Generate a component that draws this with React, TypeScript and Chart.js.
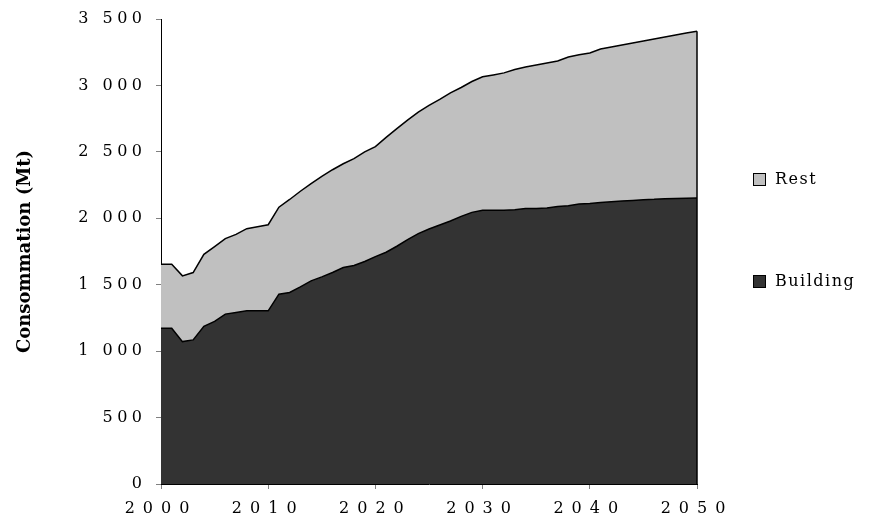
import React, { useEffect, useRef } from "react";
import { Chart, registerables } from "chart.js";

Chart.register(...registerables);

const years = [
  2000, 2001, 2002, 2003, 2004, 2005, 2006, 2007, 2008, 2009,
  2010, 2011, 2012, 2013, 2014, 2015, 2016, 2017, 2018, 2019,
  2020, 2021, 2022, 2023, 2024, 2025, 2026, 2027, 2028, 2029,
  2030, 2031, 2032, 2033, 2034, 2035, 2036, 2037, 2038, 2039,
  2040, 2041, 2042, 2043, 2044, 2045, 2046, 2047, 2048, 2049, 2050,
];

const building = [
  1172, 1172, 1072, 1085, 1187, 1224, 1279, 1292, 1304, 1304,
  1304, 1429, 1442, 1484, 1529, 1559, 1592, 1630, 1645, 1675,
  1712, 1745, 1790, 1840, 1885, 1920, 1950, 1980, 2015, 2045,
  2060, 2060, 2060, 2065, 2075, 2075, 2078, 2090, 2095, 2108,
  2112, 2120, 2125, 2130, 2135, 2140, 2143, 2148, 2150, 2152, 2154,
];

const rest = [
  482, 482, 495, 507, 542, 563, 568, 587, 618, 633,
  648, 655, 700, 720, 733, 757, 774, 781, 804, 825,
  828, 865, 885, 900, 915, 930, 945, 965, 970, 985,
  1006, 1020, 1035, 1055, 1065, 1080, 1092, 1095, 1120, 1124,
  1133, 1155, 1165, 1175, 1185, 1195, 1207, 1217, 1230, 1243, 1254,
];

const yTicks = [0, 500, 1000, 1500, 2000, 2500, 3000, 3500];
const xTicks = [2000, 2010, 2020, 2030, 2040, 2050];

const seriesNames = ["Building", "Rest"];
const seriesColors = ["#333333", "#c0c0c0"];
const axisTitle = "Consommation (Mt)";

const fmt = (v: number) => {
  const s = String(v);
  return s.length > 3 ? s.slice(0, s.length - 3) + " " + s.slice(-3) : s;
};

const TICK_FONT = "DejaVu Serif";
const Y_SPACING = "4.5px";
const X_SPACING = "8px";

const spacingPlugin = {
  id: "spacing",
  beforeLayout(chart: any) {
    chart.ctx.letterSpacing = Y_SPACING;
  },
  beforeDraw(chart: any) {
    chart.ctx.letterSpacing = Y_SPACING;
  },
  afterDraw(chart: any) {
    const ctx = chart.ctx;
    const area = chart.chartArea;
    ctx.save();
    const xs = chart.scales.x;
    const ys = chart.scales.y;
    const xr = xs.getPixelForValue(years[years.length - 1]);
    const yt = ys.getPixelForValue(building[building.length - 1] + rest[rest.length - 1]);
    ctx.strokeStyle = "#000";
    ctx.lineWidth = 1.5;
    ctx.beginPath();
    ctx.moveTo(xr, yt);
    ctx.lineTo(xr, area.bottom);
    ctx.stroke();

    // axis title
    ctx.letterSpacing = "0px";
    ctx.fillStyle = "#000";
    ctx.font = "bold 18px 'DejaVu Serif'";
    ctx.textAlign = "center";
    ctx.textBaseline = "middle";
    ctx.translate(25, (area.top + area.bottom) / 2);
    ctx.rotate(-Math.PI / 2);
    ctx.fillText(axisTitle, 0, 0);
    ctx.restore();

    // legend (Rest on top)
    ctx.save();
    ctx.letterSpacing = "1.5px";
    ctx.font = `16px '${TICK_FONT}'`;
    ctx.textAlign = "left";
    ctx.textBaseline = "middle";
    const items = [
      { name: seriesNames[1], color: seriesColors[1], y: 180 },
      { name: seriesNames[0], color: seriesColors[0], y: 282 },
    ];
    for (const it of items) {
      ctx.fillStyle = it.color;
      ctx.fillRect(753.5, it.y - 6.5, 12, 12);
      ctx.strokeStyle = "#000";
      ctx.lineWidth = 1;
      ctx.strokeRect(753.5, it.y - 6.5, 12, 12);
      ctx.fillStyle = "#000";
      ctx.fillText(it.name, 775, it.y);
    }
    ctx.restore();
  },
};

export default function App() {
  const ref = useRef<HTMLCanvasElement>(null);
  useEffect(() => {
    if (!ref.current) return;
    const chart = new Chart(ref.current, {
      type: "line",
      data: {
        datasets: [
          {
            label: seriesNames[0],
            data: years.map((x, i) => ({ x, y: building[i] })),
            backgroundColor: seriesColors[0],
            borderColor: "#000",
            borderWidth: 1.5,
            pointRadius: 0,
            fill: "origin",
            tension: 0,
          },
          {
            label: seriesNames[1],
            data: years.map((x, i) => ({ x, y: rest[i] })),
            backgroundColor: seriesColors[1],
            borderColor: "#000",
            borderWidth: 1.5,
            pointRadius: 0,
            fill: "-1",
            tension: 0,
          },
        ],
      },
      options: {
        animation: false,
        responsive: false,
        maintainAspectRatio: false,
        layout: { padding: { top: 17, right: 175, bottom: 0, left: 0 } },
        plugins: {
          legend: { display: false },
          tooltip: { enabled: false },
        },
        scales: {
          x: {
            type: "linear",
            min: 2000,
            max: 2050,
            afterBuildTicks: (s: any) => {
              s.ticks = xTicks.map((v) => ({ value: v }));
            },
            afterFit: (s: any) => {
              s.height = 46;
              if (!s._spacedPatch) {
                s._spacedPatch = true;
                const orig = s.drawLabels.bind(s);
                s.drawLabels = (a: any) => {
                  s.ctx.letterSpacing = X_SPACING;
                  orig(a);
                  s.ctx.letterSpacing = Y_SPACING;
                };
              }
            },
            ticks: {
              color: "#000",
              font: { family: TICK_FONT, size: 16 },
              padding: 10,
              maxRotation: 0,
              autoSkip: false,
              callback: (v: any) => String(v),
            },
            grid: {
              drawOnChartArea: false,
              drawTicks: true,
              tickLength: 5,
              color: "#808080",
            },
            border: { display: true, color: "#000", width: 1 },
          },
          y: {
            stacked: true,
            min: 0,
            max: 3500,
            afterBuildTicks: (s: any) => {
              s.ticks = yTicks.map((v) => ({ value: v }));
            },
            afterFit: (s: any) => {
              s.width = 161;
            },
            ticks: {
              color: "#000",
              font: { family: TICK_FONT, size: 16 },
              padding: 9.5,
              callback: (v: any) => fmt(Number(v)),
            },
            grid: {
              drawOnChartArea: false,
              drawTicks: true,
              tickLength: 5,
              color: "#808080",
            },
            border: { display: true, color: "#000", width: 1 },
          },
        },
      },
      plugins: [spacingPlugin],
    } as any);
    return () => chart.destroy();
  }, []);
  return (
    <div style={{ position: "fixed", left: 0, top: 0, width: 872, height: 530, background: "#fff" }}>
      <canvas ref={ref} width={872} height={530} style={{ width: 872, height: 530 }} />
    </div>
  );
}
